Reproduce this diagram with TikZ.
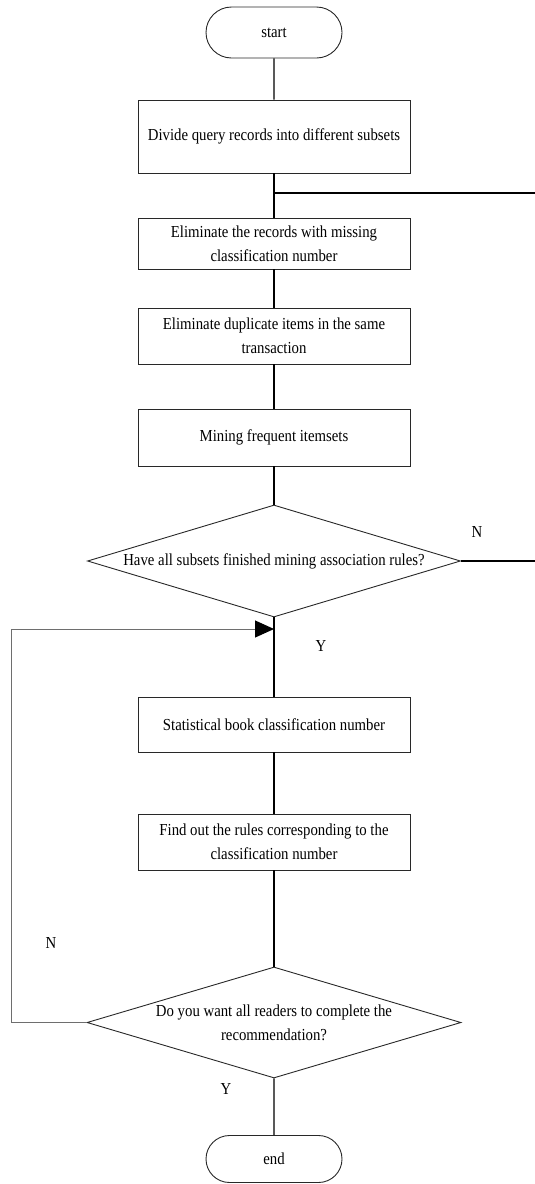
\documentclass[tikz,border=0pt]{standalone}
\usepackage{fontspec}
\setmainfont{Liberation Serif}[FakeStretch=0.88]
\usepackage{tikz}
\usetikzlibrary{arrows.meta,positioning,shapes.geometric,shapes.misc}
\usepackage{xcolor}

\begin{document}
\begin{tikzpicture}[x=1pt,y=1pt,
  txt/.style={font=\fontsize{16.8pt}{24pt}\selectfont,align=center,inner sep=0pt},
  terminal/.style={draw=boxgray,line width=0.9pt,rounded rectangle,minimum width=136pt,minimum height=51pt,txt},
  process/.style={draw=boxgray,line width=0.9pt,rectangle,minimum width=272pt,txt},
  decision/.style={draw=boxgray,line width=0.9pt,diamond,inner sep=0pt,minimum width=373pt,minimum height=112pt},
  flow/.style={line width=1.4pt,black},
  loopline/.style={line width=1pt,loopgray}]
% Define colors
\definecolor{boxgray}{RGB}{40,40,40}
\definecolor{loopgray}{RGB}{110,110,110}

\useasboundingbox (0,0) rectangle (535,-1184);

% Terminals
\node[terminal] (start) at (274,-32.5) {start};
\node[terminal,minimum height=47pt] (end) at (274,-1159) {end};

% Process boxes
\node[process,minimum height=73pt] (divide) at (274,-136.5) {Divide query records into different subsets};
\node[process,minimum height=51pt] (elimrec) at (274,-243.5) {Eliminate the records with missing\\classification number};
\node[process,minimum height=56pt] (elimdup) at (274,-336) {Eliminate duplicate items in the same\\transaction};
\node[process,minimum height=57pt] (mining) at (274,-437.5) {Mining frequent itemsets};
\node[process,minimum height=55pt] (stat) at (274,-724.5) {Statistical book classification number};
\node[process,minimum height=56pt] (findrule) at (274,-842) {Find out the rules corresponding to the\\classification number};

% Decisions
\node[decision] (subsets) at (274,-561) {};
\node[txt] (subsetstxt) at (subsets) {Have all subsets finished mining association rules?};
\node[decision,minimum width=374pt,minimum height=111pt] (readers) at (274,-1022.5) {};
\node[txt] (readerstxt) at (readers) {Do you want all readers to complete the\\recommendation?};

% Branch labels
\node[txt] (n1) at (477,-532) {N};
\node[txt] (y1) at (321,-646) {Y};
\node[txt] (n2) at (51,-943) {N};
\node[txt] (y2) at (226,-1089) {Y};

% Helper coordinates
\coordinate (split) at (274,-193);
\coordinate (outtop) at (535,-193);
\coordinate (outmid) at (535,-561);
\coordinate (loopin) at (274,-629);
\coordinate (loopbl) at (11,-1022.5);
\coordinate (looptl) at (11,-629);

% Main flow
\draw[flow] (start) -- (divide);
\draw[flow] (divide) -- (elimrec);
\draw[flow] (elimrec) -- (elimdup);
\draw[flow] (elimdup) -- (mining);
\draw[flow] (mining) -- (subsets.north);
\draw[flow] (subsets.south) -- (stat);
\draw[flow] (stat) -- (findrule);
\draw[flow] (findrule) -- (readers.north);
\draw[flow] (readers.south) -- (end);

% Side branches
\draw[flow] (split) -- (outtop);
\draw[flow] (subsets.east) -- (outmid);

% Loop back
\draw[loopline,-{Triangle[length=19pt,width=17pt,black]}] (readers.west) -- (loopbl) -- (looptl) -- (loopin);
\end{tikzpicture}
\end{document}
